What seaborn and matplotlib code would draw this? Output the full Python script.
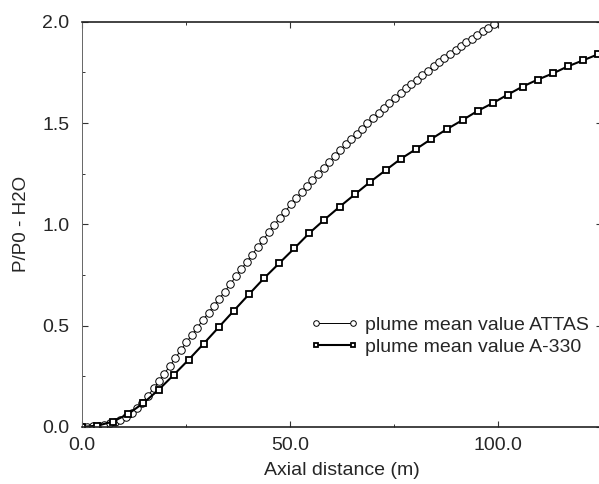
import matplotlib
matplotlib.use('Agg')
import matplotlib.pyplot as plt
import seaborn as sns
import pandas as pd
from matplotlib.ticker import MultipleLocator, FormatStrFormatter

# ATTAS plume mean value (circles)
x_attas = [0.0, 1.3, 2.6, 4.0, 5.3, 6.6, 7.9, 9.2, 10.6, 11.9, 13.2, 14.5, 15.8, 17.2,
           18.5, 19.8, 21.1, 22.4, 23.8, 25.1, 26.4, 27.7, 29.0, 30.4, 31.7, 33.0, 34.3,
           35.6, 37.0, 38.3, 39.6, 40.9, 42.2, 43.6, 44.9, 46.2, 47.5, 48.8, 50.2, 51.5,
           52.8, 54.1, 55.4, 56.8, 58.1, 59.4, 60.7, 62.0, 63.4, 64.7, 66.0, 67.3, 68.6,
           70.0, 71.3, 72.6, 73.9, 75.2, 76.6, 77.9, 79.2, 80.5, 81.8, 83.2, 84.5, 85.8,
           87.1, 88.4, 89.8, 91.1, 92.4, 93.7, 95.0, 96.4, 97.7, 99.0]
y_attas = [0.000, 0.001, 0.003, 0.006, 0.011, 0.017, 0.025, 0.036, 0.050, 0.068, 0.092,
           0.120, 0.153, 0.190, 0.226, 0.263, 0.301, 0.339, 0.380, 0.418, 0.454, 0.490,
           0.526, 0.564, 0.598, 0.633, 0.668, 0.704, 0.743, 0.779, 0.815, 0.851, 0.887,
           0.925, 0.961, 0.996, 1.030, 1.063, 1.098, 1.129, 1.160, 1.191, 1.220, 1.250,
           1.278, 1.306, 1.336, 1.366, 1.395, 1.420, 1.448, 1.473, 1.498, 1.524, 1.549,
           1.574, 1.598, 1.622, 1.648, 1.671, 1.693, 1.715, 1.736, 1.758, 1.780, 1.801,
           1.822, 1.842, 1.862, 1.881, 1.899, 1.917, 1.935, 1.953, 1.970, 1.988]

# A-330 plume mean value (squares)
x_a330 = [0.0, 3.7, 7.4, 11.1, 14.7, 18.4, 22.0, 25.6, 29.2, 32.9, 36.5, 40.1, 43.7, 47.4,
          51.0, 54.6, 58.2, 62.0, 65.7, 69.3, 73.1, 76.6, 80.4, 84.0, 87.7, 91.5, 95.1,
          98.7, 102.3, 105.9, 109.5, 113.3, 116.8, 120.5, 124.1]
y_a330 = [0.000, 0.006, 0.026, 0.064, 0.117, 0.183, 0.256, 0.331, 0.410, 0.493, 0.574,
          0.654, 0.733, 0.808, 0.881, 0.956, 1.022, 1.088, 1.150, 1.210, 1.269, 1.323,
          1.373, 1.422, 1.470, 1.515, 1.560, 1.598, 1.640, 1.680, 1.714, 1.746, 1.780,
          1.810, 1.840]

labels = ['plume mean value ATTAS', 'plume mean value A-330']

sns.set_style('ticks')
plt.rcParams['font.family'] = ['Liberation Sans', 'DejaVu Sans']

fig = plt.figure(figsize=(5.99, 4.84), dpi=100)
ax = fig.add_axes([0.137, 0.118, 0.868, 0.837])

df_attas = pd.DataFrame({'x': x_attas, 'y': y_attas})
df_a330 = pd.DataFrame({'x': x_a330, 'y': y_a330})

sns.lineplot(data=df_attas, x='x', y='y', ax=ax, color='black', lw=0.7,
             marker='o', markersize=5.4, markerfacecolor='white',
             markeredgecolor='black', markeredgewidth=0.7)
sns.lineplot(data=df_a330, x='x', y='y', ax=ax, color='black', lw=1.5,
             marker='s', markersize=4.6, markerfacecolor='white',
             markeredgecolor='black', markeredgewidth=1.3)

ax.set_xlim(0, 125)
ax.set_ylim(0, 2.0)
ax.xaxis.set_major_locator(MultipleLocator(50))
ax.xaxis.set_minor_locator(MultipleLocator(25))
ax.yaxis.set_major_locator(MultipleLocator(0.5))
ax.yaxis.set_minor_locator(MultipleLocator(0.25))
ax.xaxis.set_major_formatter(FormatStrFormatter('%.1f'))
ax.yaxis.set_major_formatter(FormatStrFormatter('%.1f'))
ax.tick_params(which='both', direction='in', top=True, right=True,
               labelsize=14, color='#333333')
ax.tick_params(axis='y', pad=9)
ax.tick_params(axis='x', pad=7)
ax.tick_params(which='major', length=4, width=0.8)
ax.tick_params(which='minor', length=2.5, width=0.7)

for side in ['top', 'bottom', 'left', 'right']:
    ax.spines[side].set_visible(True)
    ax.spines[side].set_color('#222222')
ax.spines['left'].set_linewidth(0.7)
ax.spines['left'].set_color('#666666')
ax.spines['top'].set_linewidth(1.2)
ax.spines['bottom'].set_linewidth(1.2)

ax.set_xlabel('Axial distance (m)', fontsize=14, labelpad=6)
ax.set_ylabel('P/P0 - H2O', fontsize=13.5, labelpad=9)

lines = ax.get_lines()
ax.legend(lines[:2], labels, loc='upper left', bbox_to_anchor=(0.423, 0.292),
          frameon=False, fontsize=14, numpoints=2, handlelength=2.5,
          handletextpad=0.35, labelspacing=0.22, borderaxespad=0,
          markerscale=0.75)

fig.savefig('out.png', dpi=100)
